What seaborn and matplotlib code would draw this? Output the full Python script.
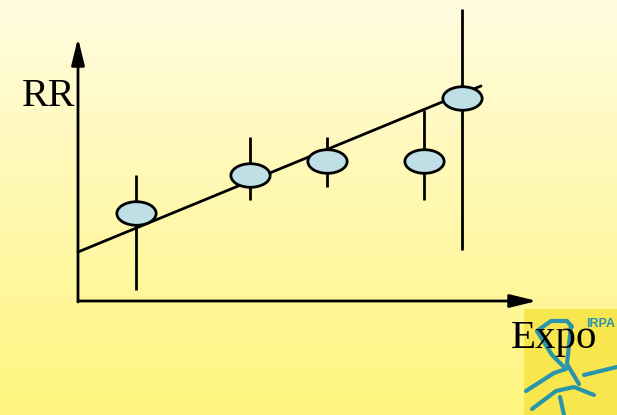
import numpy as np
import pandas as pd
import matplotlib.pyplot as plt
import seaborn as sns
from matplotlib.path import Path
from matplotlib.colors import LinearSegmentedColormap

# data (arbitrary units)
expo = [5.8, 17.2, 24.9, 34.6, 38.4]
rr = [8.8, 12.6, 14.0, 14.0, 20.3]
rr_low = [1.1, 10.1, 11.4, 10.1, 5.1]
rr_high = [12.6, 16.4, 16.4, 19.1, 29.2]
fit_x = [0.0, 40.3]
fit_y = [4.9, 21.5]

sns.set_theme(style="white")
plt.rcParams['font.family'] = ['Liberation Serif', 'DejaVu Serif']

fig = plt.figure(figsize=(6.17, 4.15), dpi=100)
ax = fig.add_axes([0, 0, 1, 1])
xmin, xmax = -7.8, 53.9
ymin, ymax = -11.4, 30.1
ax.set_xlim(xmin, xmax)
ax.set_ylim(ymin, ymax)
ax.axis('off')

# yellow gradient background
cmap = LinearSegmentedColormap.from_list('bg', ['#fff57e', '#fffce0'])
grad = np.linspace(0, 1, 256).reshape(-1, 1)
ax.imshow(grad, cmap=cmap, origin='lower', aspect='auto',
          extent=[xmin, xmax, ymin, ymax], zorder=0)

# axes arrows
arrow = dict(arrowstyle='-|>,head_length=0.9,head_width=0.22', color='black',
             lw=2, shrinkA=0, shrinkB=0, mutation_scale=18)
ax.annotate('', xy=(45.9, 0), xytext=(0, 0), arrowprops=arrow, zorder=2)
ax.annotate('', xy=(0, 26.3), xytext=(0, -0.1), arrowprops=arrow, zorder=2)
ax.text(-5.6, 19.5, 'RR', fontsize=29, color='black', ha='left', va='baseline')

# error bars and fitted line
ax.vlines(expo, rr_low, rr_high, color='black', lw=2, zorder=3)
sns.lineplot(x=fit_x, y=fit_y, color='black', lw=2, ax=ax, zorder=3)

# ellipse markers
circle = Path.unit_circle()
ellipse = Path(circle.vertices * np.array([1.0, 0.6]), circle.codes)
df = pd.DataFrame({'Expo': expo, 'RR': rr})
sns.scatterplot(data=df, x='Expo', y='RR', marker=ellipse, s=800,
                color='#bddfe5', edgecolor='black', linewidth=2, ax=ax, zorder=4)

# logo corner
lax = fig.add_axes([524 / 617, 0, 93 / 617, 106 / 415])
lax.set_xlim(0, 93)
lax.set_ylim(106, 0)
lax.axis('off')
lax.add_patch(plt.Rectangle((0, 0), 93, 106, color='#f7e64e', zorder=0))
teal = '#2a95aa'
strokes = [
    [(13, 22), (27, 12), (43, 12), (48, 18)],
    [(13, 22), (28, 46), (40, 58)],
    [(47, 16), (43, 55), (55, 75)],
    [(2, 82), (30, 64), (42, 60)],
    [(8, 100), (32, 82), (50, 78), (70, 86)],
    [(36, 88), (40, 106)],
    [(60, 66), (93, 58)],
]
for s in strokes:
    xs, ys = zip(*s)
    lax.plot(xs, ys, color=teal, lw=3, solid_capstyle='round')
lax.text(62, 15, 'IRPA', color=teal, fontsize=9, fontweight='bold',
         family='Liberation Sans', ha='left', va='center')

# x label sits over the logo
fig.text(511 / 617, 1 - 348 / 415, 'Expo', fontsize=29.5, color='black',
         ha='left', va='baseline', zorder=10)

fig.savefig('out.png', dpi=100)
